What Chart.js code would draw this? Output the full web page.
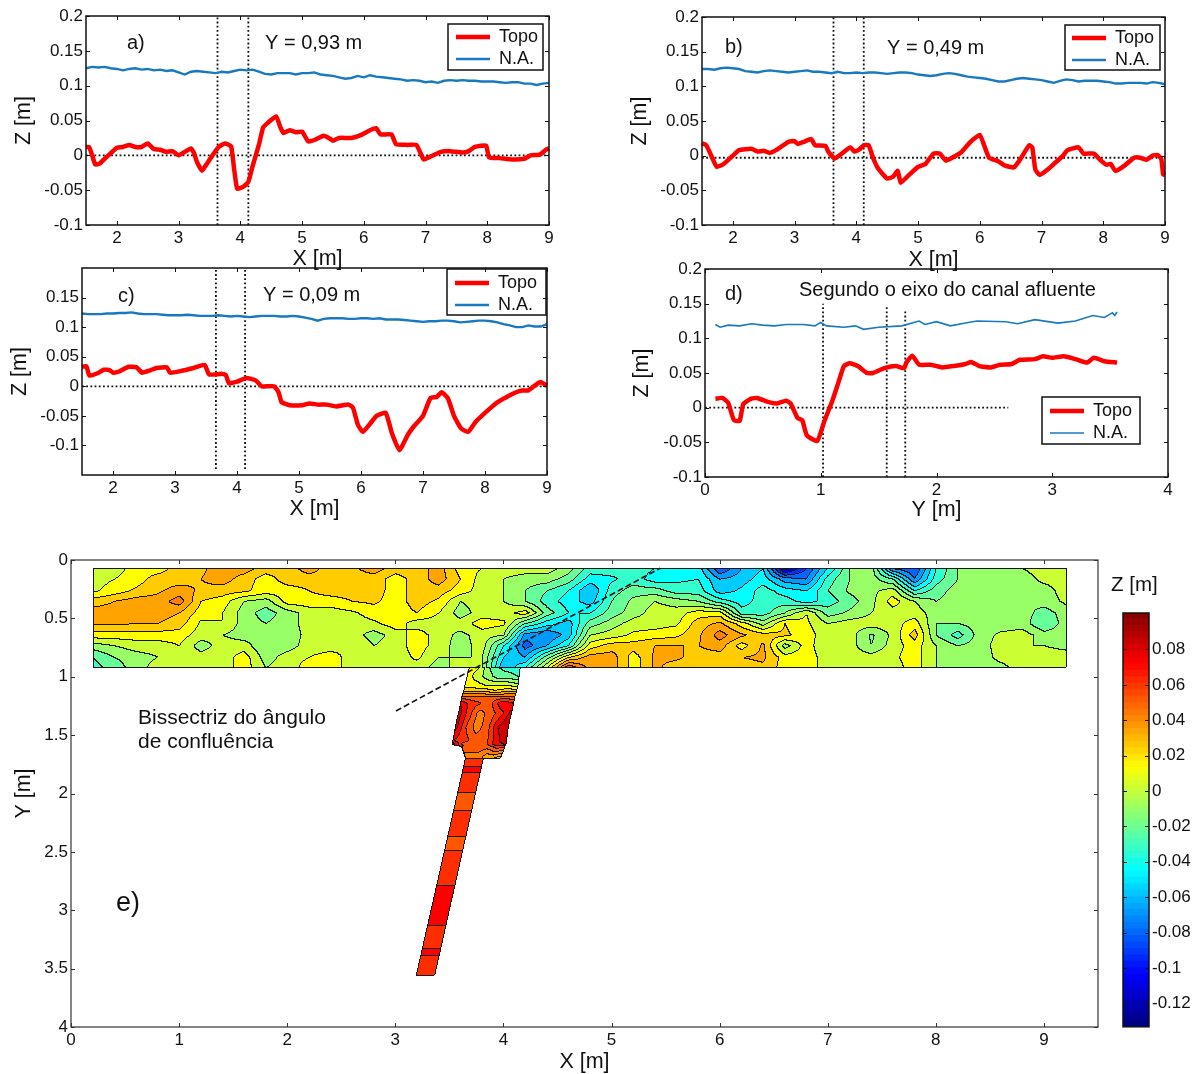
<!DOCTYPE html>
<html><head><meta charset="utf-8"><title>Perfis e topografia</title>
<script src="https://cdn.jsdelivr.net/npm/chart.js@4/dist/chart.umd.min.js"></script>
<style>html,body{margin:0;background:#fff}#w{position:relative;width:1197px;height:1074px;overflow:hidden}canvas{position:absolute}</style>
</head><body><div id="w"></div>
<script>
// ---------- profile data ----------
const xGrid=[1.5,1.6,1.7,1.8,1.9,2,2.1,2.2,2.3,2.4,2.5,2.6,2.7,2.8,2.9,3,3.1,3.2,3.3,3.4,3.5,3.6,3.7,3.8,3.9,4,4.1,4.2,4.3,4.4,4.5,4.6,4.7,4.8,4.9,5,5.1,5.2,5.3,5.4,5.5,5.6,5.7,5.8,5.9,6,6.1,6.2,6.3,6.4,6.5,6.6,6.7,6.8,6.9,7,7.1,7.2,7.3,7.4,7.5,7.6,7.7,7.8,7.9,8,8.1,8.2,8.3,8.4,8.5,8.6,8.7,8.8,8.9,9];
const naA=[.125,.127,.126,.127,.125,.124,.122,.124,.125,.123,.124,.122,.123,.121,.122,.119,.116,.120,.121,.120,.119,.118,.120,.119,.121,.123,.122,.123,.120,.117,.116,.118,.118,.118,.116,.118,.118,.119,.116,.115,.114,.112,.110,.111,.114,.112,.115,.113,.112,.111,.110,.109,.107,.108,.107,.105,.106,.104,.107,.108,.107,.108,.107,.107,.106,.106,.106,.105,.104,.105,.105,.103,.103,.101,.103,.104];
const naB=[.125,.125,.124,.126,.127,.126,.125,.122,.121,.120,.122,.123,.122,.121,.120,.121,.122,.123,.121,.121,.120,.119,.121,.119,.119,.120,.119,.120,.120,.119,.118,.119,.120,.120,.119,.117,.116,.115,.116,.118,.119,.118,.116,.114,.113,.112,.111,.109,.107,.107,.109,.111,.112,.111,.110,.109,.107,.105,.108,.110,.109,.107,.108,.108,.108,.107,.106,.104,.104,.105,.105,.105,.104,.106,.105,.103];
const naC=[.123,.122,.122,.122,.123,.123,.124,.124,.125,.123,.122,.122,.122,.121,.120,.120,.120,.121,.120,.119,.119,.119,.120,.119,.118,.119,.118,.117,.118,.119,.119,.119,.118,.118,.119,.118,.116,.114,.111,.114,.115,.115,.115,.114,.114,.115,.115,.114,.115,.113,.113,.113,.112,.111,.110,.109,.110,.110,.111,.111,.110,.108,.109,.110,.111,.111,.110,.108,.105,.103,.100,.100,.103,.101,.101,.105];
const topoAx=[1.5,1.55,1.6,1.65,1.72,1.8,1.9,2,2.1,2.2,2.3,2.4,2.5,2.6,2.7,2.8,2.9,3,3.1,3.2,3.25,3.3,3.38,3.45,3.55,3.65,3.75,3.85,3.9,3.95,4.05,4.13,4.2,4.3,4.37,4.45,4.58,4.65,4.7,4.8,4.9,5,5.1,5.2,5.35,5.45,5.5,5.6,5.8,5.95,6.1,6.2,6.27,6.45,6.52,6.7,6.85,6.92,6.97,7.1,7.25,7.4,7.6,7.7,7.8,7.98,8.03,8.2,8.4,8.6,8.7,8.85,8.95,9];
const topoAz=[.012,.012,0,-.013,-.012,-.005,.003,.011,.012,.015,.012,.012,.017,.009,.008,.005,.006,0,.005,.01,.003,-.01,-.022,-.013,0,.012,.017,.013,-.02,-.048,-.045,-.038,-.015,.015,.04,.047,.056,.04,.032,.036,.033,.034,.02,.022,.028,.024,.021,.025,.025,.029,.036,.039,.03,.03,.016,.015,.015,.003,-.006,-.001,.005,.006,.004,.006,.012,.014,-.003,-.004,-.006,-.005,0,.001,.008,.01];
const topoBx=[1.5,1.57,1.65,1.74,1.85,2,2.1,2.3,2.4,2.5,2.6,2.7,2.8,2.9,3,3.05,3.15,3.27,3.33,3.5,3.55,3.65,3.75,3.9,3.97,4.05,4.12,4.2,4.27,4.35,4.5,4.6,4.67,4.72,4.85,5,5.12,5.25,5.35,5.45,5.55,5.7,5.85,6,6.07,6.15,6.3,6.4,6.55,6.65,6.8,6.85,6.9,6.97,7.1,7.2,7.35,7.42,7.6,7.68,7.85,7.95,8.05,8.12,8.2,8.35,8.5,8.6,8.7,8.8,8.88,8.94,8.97,9];
const topoBz=[.018,.015,0,-.016,-.012,0,.008,.01,.006,.007,.004,.008,.014,.02,.021,.017,.02,.024,.015,.014,.005,-.004,.002,.012,.006,.009,.015,.015,-.003,-.018,-.033,-.03,-.022,-.039,-.028,-.016,-.012,.003,.003,-.007,-.003,.005,.02,.03,.015,-.003,-.008,-.014,-.017,-.006,.015,.012,-.02,-.028,-.02,-.012,0,.008,.012,.003,.003,-.006,-.013,-.012,-.022,-.014,-.003,-.003,-.006,0,.001,-.005,-.027,-.028];
const topoCx=[1.5,1.57,1.62,1.75,1.85,1.95,2,2.1,2.25,2.38,2.47,2.6,2.7,2.87,2.92,3.1,3.3,3.48,3.55,3.75,3.82,3.87,4,4.15,4.3,4.4,4.6,4.67,4.72,4.85,5.05,5.17,5.3,5.45,5.6,5.8,5.87,5.95,6.03,6.15,6.25,6.4,6.5,6.62,6.75,6.85,7,7.12,7.22,7.3,7.4,7.5,7.62,7.73,7.85,8,8.2,8.35,8.5,8.6,8.7,8.85,8.9,9];
const topoCz=[.033,.034,.018,.022,.028,.027,.023,.025,.033,.032,.023,.027,.031,.032,.023,.026,.031,.036,.02,.021,.019,.005,.008,.014,.01,0,0,-.01,-.027,-.032,-.032,-.029,-.031,-.031,-.034,-.031,-.036,-.065,-.077,-.063,-.05,-.045,-.08,-.108,-.083,-.068,-.05,-.02,-.018,-.01,-.02,-.05,-.072,-.077,-.06,-.045,-.027,-.018,-.01,-.007,-.007,.005,.007,.001];
const topoDx=[.09,.15,.2,.25,.3,.33,.4,.45,.55,.62,.7,.74,.8,.84,.88,.97,1.03,1.1,1.15,1.2,1.25,1.32,1.4,1.45,1.55,1.65,1.72,1.74,1.79,1.85,1.95,2.05,2.15,2.25,2.3,2.37,2.47,2.55,2.65,2.72,2.85,2.92,3,3.1,3.2,3.3,3.36,3.45,3.56];
const topoDz=[.013,.014,.007,-.018,-.019,.005,.013,.014,.008,.006,.01,.006,-.015,-.018,-.04,-.048,-.02,.01,.035,.06,.064,.06,.05,.05,.057,.06,.057,.065,.075,.062,.062,.058,.06,.063,.066,.06,.058,.062,.063,.069,.07,.074,.072,.074,.07,.065,.072,.067,.065];
const naDx=[.09,.13,.2,.3,.4,.5,.6,.7,.85,.95,1,1.05,1.2,1.3,1.37,1.5,1.7,1.85,1.9,2,2.12,2.25,2.35,2.6,2.7,2.85,3.05,3.2,3.35,3.45,3.52,3.54,3.56];
const naDz=[.12,.116,.119,.118,.121,.119,.118,.12,.12,.118,.123,.118,.116,.118,.113,.116,.118,.125,.12,.124,.118,.122,.125,.124,.121,.127,.122,.125,.133,.13,.137,.133,.138];
const ticksZ=[-.1,-.05,0,.05,.1,.15,.2], ticksZc=[-.1,-.05,0,.05,.1,.15];
const ticksX=[2,3,4,5,6,7,8,9], ticksYd=[0,1,2,3,4];
const ticksMapX=[0,1,2,3,4,5,6,7,8,9], ticksMapY=[0,.5,1,1.5,2,2.5,3,3.5,4];
const ticksBar=[-.12,-.1,-.08,-.06,-.04,-.02,0,.02,.04,.06,.08];
// ---------- map data: bed elevation in cm ----------
const mapX=[.2,.4,.6,.8,1,1.2,1.4,1.6,1.8,2,2.2,2.4,2.6,2.8,3,3.2,3.4,3.6,3.8,4,4.2,4.4,4.6,4.8,5,5.2,5.4,5.6,5.8,6,6.2,6.4,6.6,6.8,7,7.2,7.4,7.6,7.8,8,8.2,8.4,8.6,8.8,9,9.2];
const mapY=[.07,.16,.26,.35,.45,.54,.64,.73,.83,.92];
const row1=[.5,.5,1.5,1.5,2.5,2.8,3.5,3.5,2.5,2.5,3.5,2.5,2.8,3.5,2.5,2.5,3.5,1.5,1,.5,.5,.5,-.5,-2.5,-2.5,-2.5,-3,-3,-3.5,-7,-5,-4,-9.5,-7,-4,-1,-.5,-6,-7,-3,-1,-.5,-.5,0,.5,.5];
const row2=[.5,1,1.5,2.5,2.5,3,3.5,2.5,1.5,2.5,2.5,2.5,2.5,2.5,1.5,2.5,3.5,2,.5,0,-.5,-.5,-1.5,-3.5,-3.2,-2.5,-3.5,-3.2,-3,-5,-4.5,-3.5,-5.5,-6,-2.5,-1,-.5,-2,-6,-2.5,-1,-.5,-.5,-.5,.3,.5];
const row3=[.8,1.5,2.2,2.8,3.5,2.8,2.5,2.2,1.5,1.5,2,2.5,2.5,2.5,1.5,2.5,2.5,1.5,.5,0,-1,-2,-3,-5,-2.5,-1.5,-1.5,-2.5,-2.5,-4.5,-3.8,-2.5,-3.5,-4,-2,-.8,-.3,.5,-3,-1.5,-.5,0,-.5,-.5,-.5,.5];
const row4=[2.5,3,3.5,3.5,4.5,2,1.5,0,-.5,1.5,1.5,1.5,2,2.2,1.5,2.5,1.8,0,.5,0,-1,-2.5,-3.5,-4.5,-2,-.7,0,-.5,-1,-2.5,-3.5,-2.5,-2.5,-3.5,-2.5,-1.5,-.3,1.5,0,-1,-.5,-.5,-1,-1,-.5,.2];
const row5=[3.5,3.5,3.5,3.5,3,1.5,1,-.5,-1.5,-.5,.5,.5,.8,1.5,1.5,2,1,-.5,.5,.5,1.5,-1.5,-3,-3,-1.5,-.5,.5,.5,1.5,1.5,-2.5,-2.5,-1,1,-1.5,-.8,0,.5,.5,-.5,-.5,-.5,-.5,-.5,-1.5,-.5];
const row6=[3.2,3.2,3,3,2.5,.8,1,-.5,-1,-.5,.5,.5,.5,.8,1.5,.5,.5,.5,1.5,1.2,-2,-3.5,-4.5,-1.5,-.5,.5,.5,.8,2.5,3.2,1.5,-.5,2,1.2,0,.5,.5,.5,1.5,-1,-1,-.5,-.5,-.5,-2,-.5];
const row7=[1.5,1.5,1.5,1.5,1.5,.5,0,-.5,-.5,-.5,.3,.5,.5,-.5,.5,1.5,.5,-.3,.5,0,-5.5,-6,-4.5,0,.5,1.2,1.5,1.8,2.8,4.5,3.2,2.5,2.2,1.5,.3,.5,-1.2,.3,2.5,-1,-2.5,-.5,.2,.5,-.5,-.5];
const row8=[-.5,0,.5,.5,1,-.5,.5,.5,-1,-.5,.5,.5,1,0,.5,1.5,.5,-.5,.5,-3,-6.5,-5,-3,1.5,2.5,2.5,3,3,3,3.5,1.5,3.2,-.5,1.5,0,.5,-1,.5,1.5,0,-1,-.5,.5,0,0,-.3];
const row9=[-2,-1,-.5,0,.5,.5,.5,1.5,-.5,.5,1,1.5,.5,.5,.5,1.2,0,0,0,-4,-5,-1.5,2,3.5,3.5,1.5,3.2,3.2,2.5,2.5,3,3.2,1.5,1.5,.5,.5,.5,.8,1.5,0,-.5,-.5,.3,.5,.5,.5];
const row10=[-2.5,-1.5,-.5,.5,.5,1,.5,1.5,0,.5,1.5,1.5,.5,.5,.8,.5,-.5,.5,0,-5,-3,1,6,3.5,3.5,1.5,3.2,2.5,2.5,2.5,2.5,2.8,1.5,1.5,.5,.5,.5,.5,1.5,0,-.5,-.5,-.3,.5,.5,.5];
const mapZ=[row1,row2,row3,row4,row5,row6,row7,row8,row9,row10];
// tributary, wide reach: rows along Y, six columns across the channel (cm)
const wideY=[.92,.994,1.07,1.113,1.173,1.225,1.31,1.43,1.542,1.576,1.593,1.696];
const wideLeft=[3.68,3.66,3.64,3.63,3.61,3.60,3.58,3.55,3.53,3.52,3.61,3.645];
const wideRight=[4.15,4.14,4.13,4.12,4.10,4.09,4.07,4.04,4.025,4.02,4.01,3.97];
const wideZ=[[1.5,1,-1,-2,-2.5,-3],[1.5,.5,-.5,-1.5,-1.5,-2],[1.5,1.5,1,1,1,.5],[2.5,2.5,2.5,2,2.5,2.5],[5.5,5.5,5.5,5.5,5.5,5.5],[8,6.5,6,6,8,7],[8.5,6.5,4.5,5.5,6.5,8.5],[8.5,6,4.5,5.5,8,9],[7,6.5,5.5,5.5,7.5,9],[9,5.5,5.5,5.5,7.5,8],[5.5,5.5,5.5,5.5,6.5,6.5],[4.5,4.5,4.5,3,3,2]];
// tributary, narrow reach: constant-elevation cells
const narrowY=[1.696,1.764,1.813,1.984,2.141,2.364,2.484,2.784,3.126,3.326,3.383,3.555];
const narrowZ=[6.5,7.5,6.5,5.5,6.5,5.5,6.5,7.5,6.5,7.5,6.5];
const narrowLeft=[3.645,3.19], narrowRight=[3.81,3.36];
const bisX=[3.006,5.45], bisY=[1.293,.07];
// ---------- helpers ----------
const FONT='"Liberation Sans",Arial,sans-serif';
const zip=(a,b)=>a.map((v,i)=>({x:v,y:b[i]}));
function jet(t){t=Math.max(0,Math.min(1,t));const c=v=>Math.round(255*Math.max(0,Math.min(1,v)));
 return [c(Math.min(4*t-1.5,-4*t+4.5)),c(Math.min(4*t-.5,-4*t+3.5)),c(Math.min(4*t+.5,-4*t+2.5))];}
const cmin=-.1333,cmax=.1006;
const warmT=[.575,.625,.675,.715,.75,.79,.83,.875,.92,.96];
const bandRGB=b=>jet(b>=0?warmT[Math.min(b,9)]:.575+b*.05);
const frame={id:'frame',afterDraw(ch,_,o){const {ctx,chartArea:a,scales:{x,y}}=ch;ctx.save();
  ctx.strokeStyle=o.color||'#111';ctx.lineWidth=o.width||1.5;ctx.strokeRect(a.left,a.top,a.width,a.height);
  ctx.lineWidth=1;ctx.beginPath();const L=o.tick??4;
  if(!o.noX)x.ticks.forEach(t=>{const p=Math.round(x.getPixelForValue(t.value))+.5;ctx.moveTo(p,a.bottom);ctx.lineTo(p,a.bottom-L);ctx.moveTo(p,a.top);ctx.lineTo(p,a.top+L);});
  y.ticks.forEach(t=>{const p=Math.round(y.getPixelForValue(t.value))+.5;ctx.moveTo(a.left,p);ctx.lineTo(a.left+L,p);ctx.moveTo(a.right,p);ctx.lineTo(a.right-L,p);});
  ctx.stroke();
  (o.notes||[]).forEach(n=>{ctx.fillStyle='#111';ctx.font=(n.s||20)+'px '+FONT;ctx.textBaseline='middle';ctx.textAlign='left';ctx.fillText(n.t,n.x-ch.canvas.offsetLeft,n.y-ch.canvas.offsetTop);});
  if(o.legendBox){const b=o.legendBox,l=ch.canvas.offsetLeft,tp=ch.canvas.offsetTop;ctx.lineWidth=1.5;ctx.strokeStyle='#111';ctx.strokeRect(b[0]-l,b[1]-tp,b[2]-b[0],b[3]-b[1]);}
  ctx.restore();},
 beforeDraw(ch,_,o){const g=ch.legend;if(g&&o.legendAt&&g.options.display){const w=g.width,h=g.height;g.left=o.legendAt[0]-ch.canvas.offsetLeft;g.top=o.legendAt[1]-ch.canvas.offsetTop;g.right=g.left+w;g.bottom=g.top+h;}}
};
function add(geom,cfg){const c=document.createElement('canvas');const pad=geom.padT||16,padR=geom.cr?0:16;
 const right=geom.cr||geom.R+padR;
 c.width=right-geom.cl;c.height=geom.cb-(geom.T-pad);c.style.left=geom.cl+'px';c.style.top=(geom.T-pad)+'px';document.getElementById('w').appendChild(c);
 cfg.options.layout={padding:{top:pad,right:padR,left:geom.cr?geom.L-geom.cl:0,bottom:0}};
 cfg.options.responsive=false;cfg.options.animation=false;cfg.options.events=[];
 cfg.options.devicePixelRatio=1;
 const xs=cfg.options.scales.x,ys=cfg.options.scales.y;
 xs.afterFit=s=>{s.height=geom.cb-geom.B;};ys.afterFit=s=>{s.width=geom.cr?geom.cr-geom.R:geom.L-geom.cl;};
 return new Chart(c,cfg);}
function axis(title,ticks,extra){return Object.assign({type:'linear',title:{display:!!title,text:title,font:{family:FONT,size:21.5},color:'#111',padding:0},
 grid:{display:false,drawTicks:false},border:{display:false},
 ticks:{color:'#111',font:{family:FONT,size:17},padding:3,maxRotation:0,autoSkip:false,callback:v=>String(v)},
 afterBuildTicks:s=>{s.ticks=ticks.map(v=>({value:v}));}},extra);}
const guide=(pts)=>({label:'guide',data:pts,type:'scatter',showLine:true,borderColor:'#111',borderWidth:1.8,borderDash:[1.8,2.4],pointRadius:0,clip:false,order:3});
function profile(geom,xr,yr,xticks,yticks,topoX,topoZ,naX,naZ,guides,notes,legAt,legBox,xtitle,naW){
 add(geom,{type:'scatter',data:{datasets:[
  {label:'Topo',data:zip(topoX,topoZ),showLine:true,tension:.15,borderColor:'#ff0000',backgroundColor:'#ff0000',borderWidth:4.5,pointRadius:0,clip:false,order:1,borderJoinStyle:'round'},
  {label:'N.A.',data:zip(naX,naZ),showLine:true,borderColor:'#1878c0',backgroundColor:'#1878c0',borderWidth:naW,pointRadius:0,clip:false,order:2},
  ...guides.map(guide)]},
 options:{scales:{x:axis(xtitle,xticks,{min:xr[0],max:xr[1]}),y:axis('Z [m]',yticks,{min:yr[0],max:yr[1]})},
  plugins:{tooltip:{enabled:false},
   legend:{display:true,position:'chartArea',align:'start',labels:{filter:i=>i.text!=='guide',usePointStyle:true,pointStyle:'line',pointStyleWidth:34,boxHeight:8,padding:4,color:'#111',font:{family:FONT,size:18}}},
   frame:{notes,legendAt:legAt,legendBox:legBox}}},
 plugins:[frame]});}
const vg=(x,a,b)=>[{x,y:a},{x,y:b}],hg=(y,a,b)=>[{x:a,y},{x:b,y}];
// ---------- panels ----------
profile({L:86,T:16,R:549,B:225,cl:11,cb:272},[1.5,9],[-.1,.2],ticksX,ticksZ,topoAx,topoAz,xGrid,naA,
 [vg(3.63,-.1,.2),vg(4.13,-.1,.2),hg(0,1.5,9)],[{t:'a)',x:127,y:43},{t:'Y = 0,93 m',x:265,y:43}],[452,24],[448,24,543,70],'X [m]',2.4);
profile({L:702,T:17,R:1165,B:225,cl:627,cb:273},[1.5,9],[-.1,.2],ticksX,ticksZ,topoBx,topoBz,xGrid,naB,
 [vg(3.63,-.1,.2),vg(4.12,-.1,.2),hg(-.003,1.5,9)],[{t:'b)',x:725,y:47},{t:'Y = 0,49 m',x:887,y:48}],[1068,25],[1065,25,1160,70],'X [m]',2.4);
profile({L:82,T:268,R:547,B:475,cl:7,cb:522},[1.5,9],[-.15,.2],ticksX,ticksZc,topoCx,topoCz,xGrid,naC,
 [vg(3.66,-.14,.2),vg(4.13,-.14,.2),hg(0,1.5,9)],[{t:'c)',x:118,y:296},{t:'Y = 0,09 m',x:263,y:295}],[451,270],[447,269,546,315],'X [m]',2.4);
profile({L:705,T:269,R:1168,B:477,cl:629,cb:523},[0,4],[-.1,.2],ticksYd,ticksZ,topoDx,topoDz,naDx,naDz,
 [vg(1.02,-.1,.15),vg(1.57,-.1,.145),vg(1.73,-.1,.14),hg(0,0,2.62)],[{t:'d)',x:725,y:294},{t:'Segundo o eixo do canal afluente',x:799,y:290}],[1046,398],[1042,397,1140,444],'Y [m]',1.6);
// ---------- contour map ----------
function idx(arr,v){let i=0;while(i<arr.length-2&&v>arr[i+1])i++;return i;}
function zAt(x,y){
 if(y>=mapY[0]&&y<=mapY[9]&&x>=mapX[0]&&x<=mapX[45]){
  const i=idx(mapX,x),j=idx(mapY,y),u=(x-mapX[i])/(mapX[i+1]-mapX[i]),v=(y-mapY[j])/(mapY[j+1]-mapY[j]);
  return (mapZ[j][i]*(1-u)+mapZ[j][i+1]*u)*(1-v)+(mapZ[j+1][i]*(1-u)+mapZ[j+1][i+1]*u)*v;}
 if(y>mapY[9]&&y<wideY[11]){const j=idx(wideY,y),v=(y-wideY[j])/(wideY[j+1]-wideY[j]);
  const L=wideLeft[j]+(wideLeft[j+1]-wideLeft[j])*v,R=wideRight[j]+(wideRight[j+1]-wideRight[j])*v;
  if(x<L||x>R)return null;const uu=(x-L)/(R-L)*5,i=Math.min(4,Math.floor(uu)),u=uu-i;
  return (wideZ[j][i]*(1-u)+wideZ[j][i+1]*u)*(1-v)+(wideZ[j+1][i]*(1-u)+wideZ[j+1][i+1]*u)*v;}
 if(y>=narrowY[0]&&y<=narrowY[11]){const t=(y-narrowY[0])/(narrowY[11]-narrowY[0]);
  const L=narrowLeft[0]+(narrowLeft[1]-narrowLeft[0])*t,R=narrowRight[0]+(narrowRight[1]-narrowRight[0])*t;
  if(x<L||x>R)return null;return narrowZ[idx(narrowY,y)];}
 return null;}
const raster={id:'raster',beforeDatasetsDraw(ch){const {ctx,chartArea:a,scales:{x,y}}=ch;
 const l=Math.round(a.left),t=Math.round(a.top),w=Math.round(a.width),h=Math.round(a.height);
 const b=new Float64Array(w*h);
 for(let j=0;j<h;j++){const yv=y.getValueForPixel(t+j+.5);for(let i=0;i<w;i++){const z=zAt(x.getValueForPixel(l+i+.5),yv);b[j*w+i]=z===null?1e9:Math.floor(z);}}
 const img=new ImageData(w,h),d=img.data;
 for(let j=0;j<h;j++)for(let i=0;i<w;i++){const k=j*w+i,v=b[k],q=k*4;
  const edge=((i>0?b[k-1]:1e9)!==v||(j>0?b[k-w]:1e9)!==v);
  if(v===1e9&&!edge)continue;
  if(edge){d[q]=d[q+1]=d[q+2]=20;d[q+3]=255;}
  else{const c=bandRGB(v);d[q]=c[0];d[q+1]=c[1];d[q+2]=c[2];d[q+3]=255;}}
 const o=document.createElement('canvas');o.width=w;o.height=h;o.getContext('2d').putImageData(img,0,0);ctx.drawImage(o,l,t);}};
add({L:71,T:560,R:1098,B:1027,cl:11,cb:1075},{type:'scatter',data:{datasets:[
 {label:'Bissectriz do ângulo de confluência',data:zip(bisX,bisY),showLine:true,borderColor:'#111',borderWidth:1.6,borderDash:[6,3],pointRadius:0}]},
 options:{scales:{x:axis('X [m]',ticksMapX,{min:0,max:9.5}),y:axis('Y [m]',ticksMapY,{min:0,max:4,reverse:true})},
  plugins:{legend:{display:false},tooltip:{enabled:false},
   frame:{width:1.2,color:'#333',notes:[{t:'e)',x:116,y:904,s:27},{t:'Bissectriz do ângulo',x:138,y:718,s:21},{t:'de confluência',x:138,y:742,s:21}]}}},
 plugins:[raster,frame]});
// ---------- colour bar ----------
const barLevels=Array.from({length:64},(_,i)=>i);
add({L:1123,T:613,R:1149,B:1027,cl:1105,cb:1040,cr:1197,padT:40},{type:'bar',data:{labels:['Z'],datasets:barLevels.map(i=>{const s=(cmax-cmin)/64,c=jet((i+.5)/64);
  return {data:[[cmin+i*s,cmin+(i+1)*s+s*.15]],backgroundColor:`rgb(${c})`,borderWidth:0,barPercentage:1,categoryPercentage:1,grouped:false};})},
 options:{scales:{x:{type:'category',display:true,grid:{display:false,drawTicks:false},border:{display:false},ticks:{display:false}},
  y:axis('',ticksBar,{min:cmin,max:cmax,position:'right'})},
  plugins:{legend:{display:false},tooltip:{enabled:false},frame:{noX:true,tick:4,width:1.5,notes:[{t:'Z [m]',x:1111,y:585,s:20.5}]}}},
 plugins:[frame]});
</script></body></html>
